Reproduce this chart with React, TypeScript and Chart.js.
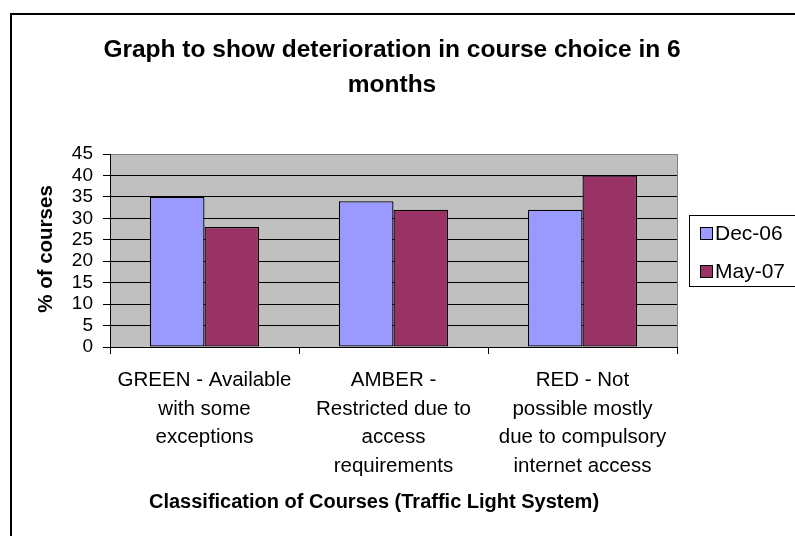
import React, { useEffect, useRef } from 'react';
import { Chart, registerables } from 'chart.js';

Chart.register(...registerables);

const categories: string[][] = [
  ['GREEN - Available', 'with some', 'exceptions'],
  ['AMBER -', 'Restricted due to', 'access', 'requirements'],
  ['RED - Not', 'possible mostly', 'due to compulsory', 'internet access'],
];
const seriesNames = ['Dec-06', 'May-07'];
const dec06 = [35, 34, 32];
const may07 = [28, 32, 40];
const seriesColors = ['#9999FF', '#993366'];
const yMin = 0;
const yMax = 45;
const yStep = 5;
const titleLines = ['Graph to show deterioration in course choice in 6', 'months'];
const xTitle = 'Classification of Courses (Traffic Light System)';
const yTitle = '% of courses';

const FONT = "'Liberation Sans', Arial, Helvetica, sans-serif";

const decor = {
  id: 'decor',
  beforeDraw(chart: any) {
    const { ctx, chartArea: a } = chart;
    ctx.save();
    ctx.fillStyle = '#ffffff';
    ctx.fillRect(0, 0, chart.width, chart.height);
    ctx.strokeStyle = '#000000';
    ctx.lineWidth = 2;
    ctx.strokeRect(11, 14, chart.width + 40, chart.height + 40);
    ctx.fillStyle = '#C0C0C0';
    ctx.fillRect(a.left, a.top, a.right - a.left, a.bottom - a.top);
    ctx.restore();
  },
  afterDraw(chart: any) {
    const { ctx, chartArea: a } = chart;
    ctx.save();
    // right plot border
    ctx.strokeStyle = '#808080';
    ctx.lineWidth = 1;
    ctx.beginPath();
    const rx = Math.floor(a.right) + 0.5;
    ctx.moveTo(rx, a.top);
    ctx.lineTo(rx, a.bottom);
    ctx.stroke();

    // title
    ctx.fillStyle = '#000';
    ctx.textAlign = 'center';
    ctx.textBaseline = 'middle';
    ctx.font = `bold 24.5px ${FONT}`;
    titleLines.forEach((t, i) => ctx.fillText(t, 392, 50 + i * 35));

    // x title
    ctx.font = `bold 20px ${FONT}`;
    ctx.fillText(xTitle, 374, 502);

    // y title
    ctx.save();
    ctx.translate(46, 249);
    ctx.rotate(-Math.PI / 2);
    ctx.font = `bold 20.5px ${FONT}`;
    ctx.fillText(yTitle, 0, 0);
    ctx.restore();

    // legend
    ctx.fillStyle = '#fff';
    ctx.fillRect(689.5, 215.5, 140, 71);
    ctx.strokeStyle = '#000';
    ctx.lineWidth = 1;
    ctx.strokeRect(689.5, 215.5, 140, 71);
    ctx.font = `21px ${FONT}`;
    ctx.textAlign = 'left';
    chart.data.datasets.forEach((ds: any, i: number) => {
      const cy = 233 + i * 38;
      ctx.fillStyle = ds.backgroundColor;
      ctx.fillRect(700.5, cy - 5.5, 12, 12);
      ctx.strokeStyle = '#000';
      ctx.strokeRect(700.5, cy - 5.5, 12, 12);
      ctx.fillStyle = '#000';
      ctx.fillText(ds.label, 715, cy + 1);
    });
    ctx.restore();
  },
};

export default function App() {
  const ref = useRef<HTMLCanvasElement | null>(null);
  useEffect(() => {
    if (!ref.current) return;
    const chart = new Chart(ref.current, {
      type: 'bar',
      data: {
        labels: categories,
        datasets: [
          {
            label: seriesNames[0],
            data: dec06,
            backgroundColor: seriesColors[0],
            borderColor: '#000',
            borderWidth: 1.3,
            borderSkipped: false,
          },
          {
            label: seriesNames[1],
            data: may07,
            backgroundColor: seriesColors[1],
            borderColor: '#000',
            borderWidth: 1.3,
            borderSkipped: false,
          },
        ],
      },
      options: {
        responsive: false,
        animation: false,
        events: [],
        layout: { padding: { top: 154, right: 118, left: 0, bottom: 59 } },
        datasets: { bar: { categoryPercentage: 0.578, barPercentage: 1 } },
        plugins: {
          legend: { display: false },
          title: { display: false },
          tooltip: { enabled: false },
        },
        scales: {
          x: {
            type: 'category',
            offset: true,
            afterFit: (s: any) => {
              s.height = 130;
            },
            grid: {
              offset: true,
              drawOnChartArea: false,
              drawTicks: true,
              tickLength: 7,
              tickColor: '#000',
              color: '#000',
            },
            border: { color: '#000', width: 1 },
            ticks: {
              color: '#000',
              font: { family: FONT, size: 20.5, lineHeight: 1.4 },
              padding: 12,
              maxRotation: 0,
              minRotation: 0,
              autoSkip: false,
            },
          },
          y: {
            min: yMin,
            max: yMax,
            afterFit: (s: any) => {
              s.width = 110;
            },
            grid: {
              color: (c: any) => (c.tick && c.tick.value === yMax ? '#808080' : '#000'),
              tickColor: '#000',
              tickLength: 7,
              lineWidth: 1,
            },
            border: { color: '#000', width: 1 },
            ticks: {
              stepSize: yStep,
              autoSkip: false,
              color: '#000',
              font: { family: FONT, size: 19 },
              padding: 10,
            },
          },
        },
      },
      plugins: [decor],
    });
    return () => chart.destroy();
  }, []);
  return (
    <div style={{ position: 'fixed', left: 0, top: 0, width: 795, height: 536, background: '#fff' }}>
      <canvas ref={ref} width={795} height={536} style={{ display: 'block' }} />
    </div>
  );
}
